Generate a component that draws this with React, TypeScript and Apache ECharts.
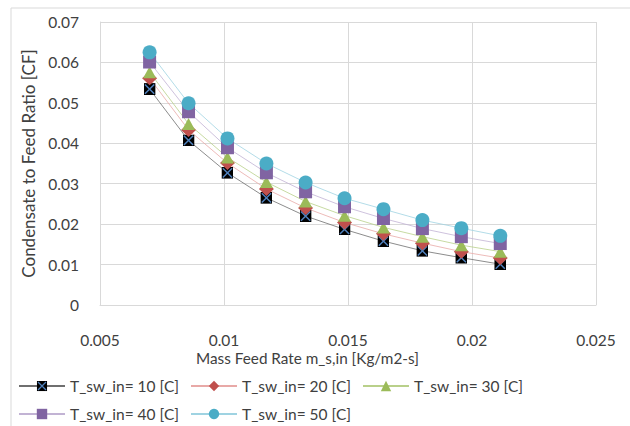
import React, { useEffect, useRef } from "react";
import * as echarts from "echarts";

const feedRate = [0.007, 0.00857, 0.01014, 0.01171, 0.01329, 0.01486, 0.01643, 0.018, 0.01957, 0.02114];
const cf10 = [0.0534, 0.0407, 0.0327, 0.0265, 0.022, 0.0187, 0.0158, 0.0134, 0.0117, 0.0101];
const cf20 = [0.0561, 0.0433, 0.0351, 0.0287, 0.024, 0.0204, 0.0176, 0.0153, 0.0132, 0.0116];
const cf30 = [0.0576, 0.0448, 0.0365, 0.0304, 0.0256, 0.0221, 0.0192, 0.0169, 0.0148, 0.0132];
const cf40 = [0.0601, 0.0478, 0.0389, 0.0327, 0.028, 0.0243, 0.0214, 0.0189, 0.0169, 0.0152];
const cf50 = [0.0625, 0.0499, 0.0412, 0.035, 0.0303, 0.0264, 0.0237, 0.021, 0.019, 0.0171];
const seriesNames = ["T_sw_in= 10 [C]", "T_sw_in= 20 [C]", "T_sw_in= 30 [C]", "T_sw_in= 40 [C]", "T_sw_in= 50 [C]"];
const xTitle = "Mass Feed Rate m_s,in [Kg/m2-s]";
const yTitle = "Condensate to Feed Ratio [CF]";

const FONT = "Lato";
const TEXT = "#404040";

const xMarkerSvg =
  "<svg xmlns='http://www.w3.org/2000/svg' width='26' height='26' viewBox='0 0 13 13'>" +
  "<rect width='13' height='13' fill='#000000'/>" +
  "<path d='M1.5 1.5L11.5 11.5M11.5 1.5L1.5 11.5' stroke='#4F81BD' stroke-width='1.6'/></svg>";
const xMarker = "image://data:image/svg+xml;charset=utf-8," + encodeURIComponent(xMarkerSvg);

// legend slot positions (left, top) for each series entry
const legendSlots = [
  [13, 372],
  [185, 372],
  [357, 372],
  [13, 400],
  [185, 400],
];

export default function App() {
  const ref = useRef<HTMLDivElement>(null);
  useEffect(() => {
    document.body.style.margin = "0";
    const chart = echarts.init(ref.current!, null, { renderer: "svg" });
    const mk = (name: string, vals: number[], symbol: string, size: any, color: string, lineColor: string) => ({
      name,
      type: "line",
      data: feedRate.map((x, i) => [x, vals[i]]),
      symbol,
      symbolSize: size,
      showSymbol: true,
      itemStyle: { color, opacity: 1 },
      lineStyle: { color: lineColor, width: 0.8 },
    });
    chart.setOption({
      animation: false,
      backgroundColor: "#ffffff",
      textStyle: { fontFamily: FONT },
      grid: { left: 100, right: 34, top: 22, bottom: 121 },
      xAxis: {
        type: "value",
        min: 0.005,
        max: 0.025,
        interval: 0.005,
        axisLine: { show: true, lineStyle: { color: "#d9d9d9", width: 1 } },
        axisTick: { show: false },
        splitLine: { show: true, lineStyle: { color: "#d9d9d9", width: 1 } },
        axisLabel: {
          margin: 27,
          fontSize: 15.5,
          color: TEXT,
          fontFamily: FONT,
          formatter: (v: number) => String(parseFloat(v.toFixed(4))),
        },
      },
      yAxis: {
        type: "value",
        min: 0,
        max: 0.07,
        interval: 0.01,
        name: yTitle,
        nameLocation: "middle",
        nameGap: 63,
        nameTextStyle: { fontSize: 17, color: TEXT, fontFamily: FONT },
        axisLine: { show: true, lineStyle: { color: "#d9d9d9", width: 1 } },
        axisTick: { show: false },
        splitLine: { show: true, lineStyle: { color: "#d9d9d9", width: 1 } },
        axisLabel: {
          margin: 21,
          fontSize: 15.5,
          color: TEXT,
          fontFamily: FONT,
          formatter: (v: number) => String(parseFloat(v.toFixed(4))),
        },
      },
      legend: seriesNames.map((name, i) => ({
        left: legendSlots[i][0],
        top: legendSlots[i][1],
        itemWidth: 46,
        itemHeight: 13,
        textStyle: { fontSize: 15.5, lineHeight: 18, color: TEXT, fontFamily: FONT },
        data: [name],
      })),
      graphic: [
        {
          type: "rect",
          shape: { x: 11, y: 8, width: 700, height: 500 },
          style: { fill: "none", stroke: "#d9d9d9", lineWidth: 1 },
          silent: true,
          z: -10,
        },
        {
          type: "text",
          left: 196,
          top: 350,
          style: { text: xTitle, fontSize: 15.3, fill: TEXT, fontFamily: FONT },
        },
      ],
      series: [
        mk(seriesNames[0], cf10, xMarker, 12, "#000000", "#6f6f6f"),
        mk(seriesNames[1], cf20, "diamond", [15, 14], "#C0504D", "#e8a9a7"),
        mk(seriesNames[2], cf30, "triangle", [13, 12], "#9BBB59", "#b9d08a"),
        mk(seriesNames[3], cf40, "rect", 13, "#8064A2", "#c2b3d4"),
        mk(seriesNames[4], cf50, "circle", 14, "#4BACC6", "#9fd3e2"),
      ],
    });
    return () => chart.dispose();
  }, []);
  return <div ref={ref} style={{ width: 630, height: 426 }} />;
}
